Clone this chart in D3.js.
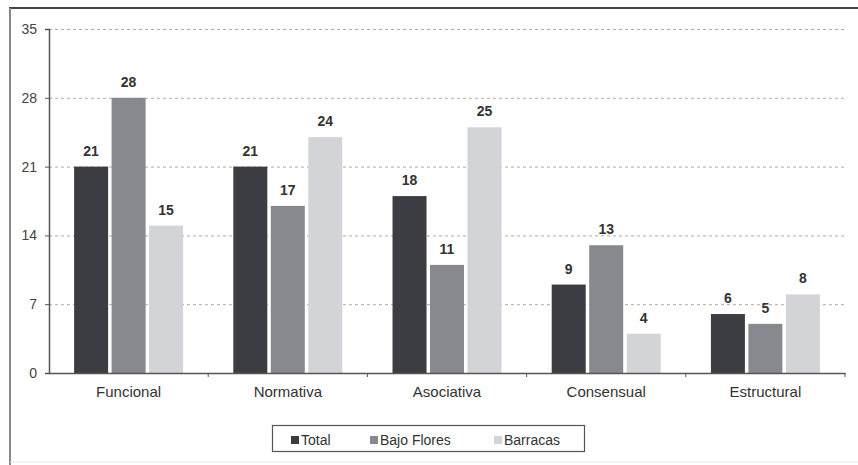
<!DOCTYPE html>
<html>
<head>
<meta charset="utf-8">
<script src="https://cdn.jsdelivr.net/npm/d3@7"></script>
<style>
  html, body { margin: 0; padding: 0; background: #ffffff; }
  svg { display: block; }
</style>
</head>
<body>
<svg id="chart" width="858" height="465"></svg>
<script>
// Chart data
const categories = ["Funcional", "Normativa", "Asociativa", "Consensual", "Estructural"];
const seriesNames = ["Total", "Bajo Flores", "Barracas"];
const totalValues = [21, 21, 18, 9, 6];
const bajoFloresValues = [28, 17, 11, 13, 5];
const barracasValues = [15, 24, 25, 4, 8];
const yTicks = [0, 7, 14, 21, 28, 35];

const seriesValues = [totalValues, bajoFloresValues, barracasValues];
const colors = ["#3c3d42", "#87898e", "#d2d4d8"];
const FONT = "Liberation Sans, Arial, sans-serif";

const svg = d3.select("#chart");
const W = 858, H = 465;
const plot = { left: 49, right: 845, top: 29, bottom: 373 };

// Outer frame
svg.append("rect").attr("x", 0).attr("y", 0).attr("width", W).attr("height", H).attr("fill", "#fff");
svg.append("line").attr("x1", 9).attr("x2", 858).attr("y1", 8).attr("y2", 8)
  .attr("stroke", "#444").attr("stroke-width", 2);
svg.append("line").attr("x1", 10).attr("x2", 10).attr("y1", 8).attr("y2", 465)
  .attr("stroke", "#888").attr("stroke-width", 2);
svg.append("line").attr("x1", 10).attr("x2", 858).attr("y1", 462).attr("y2", 462)
  .attr("stroke", "#e4e6ea").attr("stroke-width", 1);

const x0 = d3.scaleBand().domain(categories).range([plot.left, plot.right]).paddingInner(0).paddingOuter(0);
const x1 = d3.scaleBand().domain(seriesNames).range([0, x0.bandwidth()]).paddingInner(0.093).paddingOuter(0.67);
const y = d3.scaleLinear().domain([0, 35]).range([plot.bottom, plot.top]);

// Dashed gridlines
svg.append("g").selectAll("line").data(yTicks.filter(t => t > 0)).join("line")
  .attr("x1", plot.left).attr("x2", plot.right)
  .attr("y1", d => y(d) + 0.5).attr("y2", d => y(d) + 0.5)
  .attr("stroke", "#b9a8a0").attr("stroke-width", 1).attr("stroke-dasharray", "3,3");

// Bars
const groups = svg.append("g").selectAll("g").data(categories).join("g")
  .attr("transform", d => `translate(${x0(d)},0)`);

groups.selectAll("rect").data((c, i) => seriesNames.map((s, j) => ({ s, j, v: seriesValues[j][i] })))
  .join("rect")
  .attr("x", d => x1(d.s))
  .attr("width", x1.bandwidth())
  .attr("y", d => y(d.v))
  .attr("height", d => y(0) - y(d.v))
  .attr("fill", d => colors[d.j]);

// Value labels
groups.selectAll("text").data((c, i) => seriesNames.map((s, j) => ({ s, j, v: seriesValues[j][i] })))
  .join("text")
  .attr("x", d => x1(d.s) + x1.bandwidth() / 2)
  .attr("y", d => y(d.v) - 11)
  .attr("text-anchor", "middle")
  .attr("font-family", FONT)
  .attr("font-size", 14)
  .attr("font-weight", "bold")
  .attr("fill", "#333")
  .text(d => d.v);

// Y axis
const yAxis = d3.axisLeft(y).tickValues(yTicks).tickSize(4).tickPadding(8);
const gy = svg.append("g").attr("transform", `translate(${plot.left},0)`).call(yAxis);
gy.select(".domain").attr("stroke", "#555").attr("stroke-width", 1.5);
gy.selectAll(".tick line").attr("stroke", "#555");
gy.selectAll(".tick text").attr("font-family", FONT)
  .attr("font-size", 14).attr("fill", "#444");

// X axis
const xAxis = d3.axisBottom(x0).tickSize(0).tickPadding(13);
const gx = svg.append("g").attr("transform", `translate(0,${plot.bottom})`).call(xAxis);
gx.select(".domain").attr("stroke", "#555").attr("stroke-width", 1.5);
gx.selectAll(".tick text").attr("font-family", FONT)
  .attr("font-size", 15).attr("fill", "#333");
// category separator ticks
svg.append("g").selectAll("line").data(categories.slice(1).concat(["end"])).join("line")
  .attr("x1", d => d === "end" ? plot.right : x0(d))
  .attr("x2", d => d === "end" ? plot.right : x0(d))
  .attr("y1", plot.bottom).attr("y2", plot.bottom + 4)
  .attr("stroke", "#555");

// Legend
const legend = svg.append("g");
legend.append("rect").attr("x", 272.5).attr("y", 425.5).attr("width", 312).attr("height", 26)
  .attr("fill", "#fff").attr("stroke", "#555").attr("stroke-width", 1.2);
const legendX = [291, 370, 494];
seriesNames.forEach((s, j) => {
  legend.append("rect").attr("x", legendX[j]).attr("y", 436).attr("width", 8).attr("height", 8)
    .attr("fill", colors[j]);
  legend.append("text").attr("x", legendX[j] + 10).attr("y", 444.5)
    .attr("font-family", FONT).attr("font-size", 14)
    .attr("fill", "#333").text(s);
});
</script>
</body>
</html>
